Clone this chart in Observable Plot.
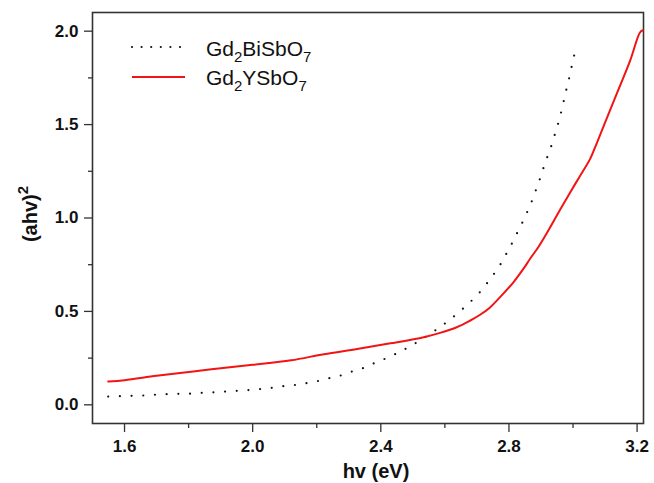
<!DOCTYPE html>
<html>
<head>
<meta charset="utf-8">
<script src="https://cdn.jsdelivr.net/npm/d3@7"></script>
<script src="https://cdn.jsdelivr.net/npm/@observablehq/plot@0.6"></script>
<style>
  html, body { margin: 0; padding: 0; background: #fff; }
</style>
</head>
<body>
<div id="chart"></div>
<script>
// Gd2BiSbO7 (black dotted)
const hvBi = [1.549,1.585,1.623,1.660,1.697,1.732,1.768,1.806,1.841,1.878,1.914,1.950,1.986,2.022,2.059,2.096,2.132,2.168,2.205,2.242,2.277,2.313,2.349,2.386,2.422,2.459,2.494,2.532,2.568,2.603,2.641,2.677,2.713,2.742,2.767,2.789,2.809,2.827,2.845,2.861,2.876,2.889,2.902,2.913,2.927,2.939,2.950,2.960,2.969,2.977,2.986,2.994,3.002,3.011];
const ahvBi = [0.044,0.046,0.048,0.050,0.054,0.057,0.059,0.060,0.064,0.067,0.071,0.075,0.079,0.084,0.091,0.100,0.106,0.116,0.128,0.144,0.158,0.180,0.199,0.228,0.253,0.283,0.316,0.355,0.396,0.439,0.492,0.547,0.610,0.675,0.734,0.800,0.863,0.925,0.987,1.048,1.110,1.174,1.235,1.297,1.358,1.424,1.484,1.547,1.611,1.672,1.734,1.797,1.859,1.923];

// Gd2YSbO7 (red solid)
const hvY = [1.549,1.600,1.700,1.821,1.900,2.000,2.120,2.222,2.326,2.430,2.534,2.585,2.637,2.678,2.710,2.740,2.773,2.814,2.846,2.866,2.892,2.918,2.960,2.991,3.020,3.053,3.074,3.105,3.136,3.178,3.209,3.218];
const ahvY = [0.125,0.132,0.155,0.180,0.196,0.214,0.238,0.271,0.299,0.329,0.362,0.385,0.415,0.450,0.482,0.520,0.578,0.656,0.730,0.782,0.845,0.918,1.045,1.137,1.220,1.315,1.400,1.532,1.663,1.841,1.993,2.005];

const xMajorTicks = [1.6, 2.0, 2.4, 2.8, 3.2];
const xMinorTicks = [1.8, 2.2, 2.6, 3.0];
const yMajorTicks = [0.0, 0.5, 1.0, 1.5, 2.0];
const yMinorTicks = [0.25, 0.75, 1.25, 1.75];

const seriesNames = ["Gd2BiSbO7", "Gd2YSbO7"];

const biData = hvBi.map((x, i) => ({x, y: ahvBi[i]}));
const yData = hvY.map((x, i) => ({x, y: ahvY[i]}));

const fmt = d3.format(".1f");
const axisColor = "#333";

const plot = Plot.plot({
  width: 654,
  height: 483,
  marginLeft: 92,
  marginRight: 11,
  marginTop: 12,
  marginBottom: 60,
  x: {domain: [1.5, 3.22]},
  y: {domain: [-0.1, 2.1]},
  style: {
    fontFamily: "'Liberation Sans', Arial, Helvetica, sans-serif",
    fontSize: "17px",
    fontWeight: "bold",
    color: "#111",
    background: "white",
    overflow: "visible"
  },
  marks: [
    Plot.axisX(xMajorTicks, {tickSize: 9, tickPadding: 7, tickFormat: fmt, label: null, stroke: axisColor, strokeWidth: 1.3}),
    Plot.axisX(xMinorTicks, {tickSize: 5, tickFormat: () => "", label: null, stroke: axisColor, strokeWidth: 1.3}),
    Plot.axisY(yMajorTicks, {tickSize: 8, tickPadding: 6, tickFormat: fmt, label: null, stroke: axisColor, strokeWidth: 1.3}),
    Plot.axisY(yMinorTicks, {tickSize: 4, tickFormat: () => "", label: null, stroke: axisColor, strokeWidth: 1.3}),
    Plot.frame({stroke: axisColor, strokeWidth: 1.6}),
    Plot.line(biData, {x: "x", y: "y", curve: "catmull-rom", stroke: "#111", strokeWidth: 2.2, strokeDasharray: "0 11.7", strokeLinecap: "round"}),
    Plot.line(yData, {x: "x", y: "y", curve: "catmull-rom", stroke: "#f21414", strokeWidth: 2})
  ]
});

document.getElementById("chart").appendChild(plot);

const svg = d3.select(plot);

// Axis labels
svg.append("text")
  .attr("x", 376).attr("y", 478)
  .attr("text-anchor", "middle")
  .style("font-size", "20px").style("font-weight", "bold").attr("fill", "#111")
  .text("hv (eV)");

const yl = svg.append("text")
  .attr("transform", "translate(37,214) rotate(-90)")
  .attr("text-anchor", "middle")
  .style("font-size", "20px").style("font-weight", "bold").attr("fill", "#111");
yl.append("tspan").text("(ahv)");
yl.append("tspan").attr("dy", -9).style("font-size", "15px").text("2");

// Legend
const leg = svg.append("g")
  .attr("text-anchor", "start")
  .style("font-weight", "normal").style("font-size", "21px").attr("fill", "#111");
leg.append("line").attr("x1", 132).attr("x2", 182).attr("y1", 47).attr("y2", 47)
  .attr("stroke", "#111").attr("stroke-width", 2.2).attr("stroke-linecap", "round").attr("stroke-dasharray", "0 9.6");
leg.append("line").attr("x1", 132).attr("x2", 185).attr("y1", 77).attr("y2", 77)
  .attr("stroke", "#f21414").attr("stroke-width", 2);

function chem(g, y, name) {
  const t = g.append("text").attr("x", 206).attr("y", y).attr("text-anchor", "start");
  const parts = name.match(/[A-Za-z]+|\d+/g);
  let sub = false;
  parts.forEach(p => {
    if (/^\d+$/.test(p)) {
      t.append("tspan").attr("dy", 6).style("font-size", "15px").text(p);
      sub = true;
    } else {
      t.append("tspan").attr("dy", sub ? -6 : 0).text(p);
      sub = false;
    }
  });
}
chem(leg, 56, seriesNames[0]);
chem(leg, 85, seriesNames[1]);
</script>
</body>
</html>
